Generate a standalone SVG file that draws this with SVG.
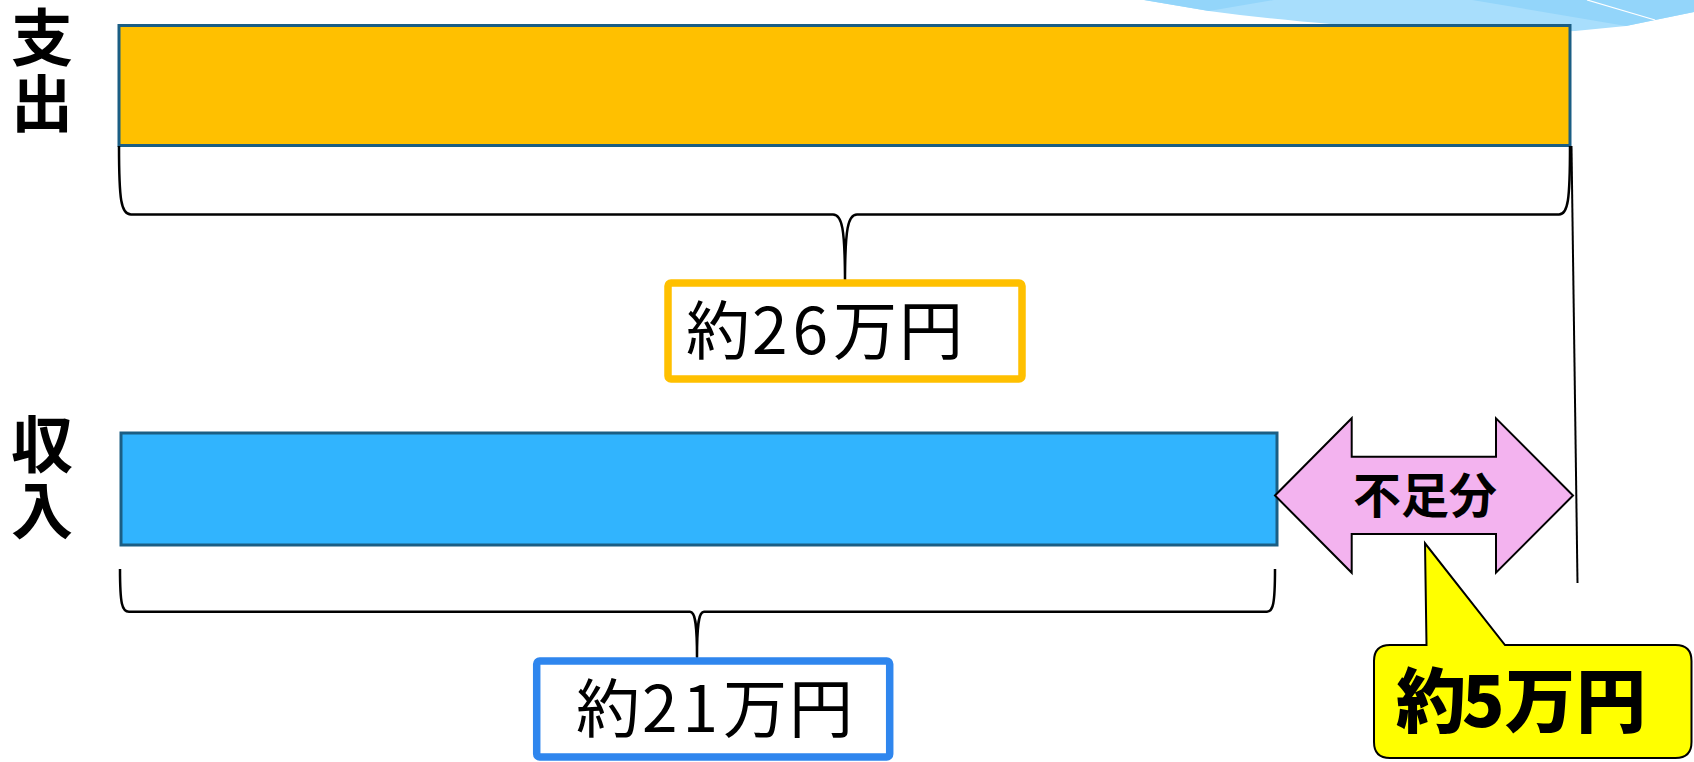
<svg xmlns="http://www.w3.org/2000/svg" width="1694" height="762" viewBox="0 0 1694 762">
<style>
.bar{stroke:#1B5E84;stroke-width:3}
.brace{fill:none;stroke:#000;stroke-width:2.5;stroke-linejoin:round}
.lbl{font-family:"Noto Sans CJK JP","Noto Sans CJK SC",sans-serif;fill:#000}
.side{font-size:62px;font-weight:bold;writing-mode:vertical-rl;letter-spacing:4px}
.amt{font-size:64px}
.valbox{fill:#fff;stroke-width:7.5}
</style>
<rect width="1694" height="762" fill="#fff"/>
<g id="swoosh">
<path d="M1144,0 L1209,11 C1330,27 1480,36 1575,31 L1626,26 L1655,20 L1694,12 L1694,0 Z" fill="#A8DEFC"/>
<path d="M1144,0 L1274,0 L1209,11 Z" fill="#93D5FA"/>
<path d="M1472,0 L1626,26 L1655,20 L1694,12 L1694,0 Z" fill="#93D5FA"/>
<path d="M1587,0 L1655,20" stroke="#fff" stroke-width="1.3" fill="none"/>
</g>
<g id="label-expense">
<text class="lbl side" x="42" y="6">支出</text>
</g>
<g id="label-income">
<text class="lbl side" x="42" y="413">収入</text>
</g>
<g id="bar-expense">
<rect class="bar" x="119" y="25.5" width="1451" height="120" fill="#FFC000"/>
</g>
<g id="bar-income">
<rect class="bar" x="121" y="433" width="1156" height="112" fill="#31B4FE"/>
</g>
<g id="connectors">
<path class="brace" d="M119,146 C119,200 121,214.5 131,214.5 L833,214.5 C842,214.5 845,228 845,283 C845,228 848,214.5 857,214.5 L1559,214.5 C1568,214.5 1570,200 1570,146"/>
<path class="brace" d="M120,569 C120,604 122,611.7 129,611.7 L690,611.7 C695,611.7 697,622 697,657 C697,622 699,611.7 704,611.7 L1267,611.7 C1273,611.7 1275,604 1275,569"/>
<path d="M1571.5,146 L1577.5,583" stroke="#000" stroke-width="2" fill="none"/>
</g>
<g id="box-expense">
<rect class="valbox" x="668" y="283" width="354" height="96" rx="3" stroke="#FFC000"/>
<text class="lbl amt" x="686 752 792.5 833 899" y="353.5">約26万円</text>
</g>
<g id="box-income">
<rect class="valbox" x="536.7" y="661" width="353" height="96" rx="3" stroke="#2F86EE"/>
<text class="lbl amt" x="576 642 682.5 723 789" y="732">約21万円</text>
</g>
<g id="arrow-shortfall">
<polygon points="1275,495.5 1351.7,418.3 1351.7,456.7 1496,456.7 1496,418.3 1573,495.5 1496,572.7 1496,534 1351.7,534 1351.7,572.7" fill="#F3B3EF" stroke="#000" stroke-width="2" stroke-linejoin="miter"/>
<text class="lbl" x="1425" y="513" font-size="48" font-weight="bold" text-anchor="middle">不足分</text>
</g>
<g id="callout-shortfall">
<path d="M1390,645 L1426.5,645 L1425,543.3 L1505,645 L1675.5,645 Q1691.5,645 1691.5,661 L1691.5,742 Q1691.5,758 1675.5,758 L1390,758 Q1374,758 1374,742 L1374,661 Q1374,645 1390,645 Z" fill="#FFFF00" stroke="#000" stroke-width="2"/>
<text class="lbl" x="1396 1462 1505 1576" y="727" font-size="70" font-weight="900">約5万円</text>
</g>
</svg>
